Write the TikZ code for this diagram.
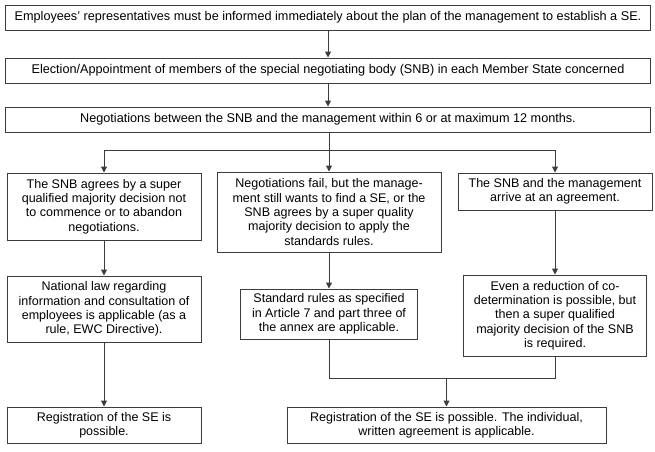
\documentclass[tikz,border=0pt]{standalone}
\usepackage{fontspec}
\setmainfont{Liberation Sans}
\usetikzlibrary{arrows.meta}
\definecolor{linegray}{RGB}{60,60,60}
\tikzset{
  box/.style={draw=linegray, line width=0.75pt, inner sep=1pt, align=center,
    font=\fontsize{9.4}{10.7}\selectfont},
  wide/.style={box, minimum width=483.75pt, minimum height=18.75pt,
    font=\fontsize{9.5}{11}\selectfont},
  conn/.style={draw=linegray, line width=0.75pt},
  arr/.style={conn, -{Triangle[length=4.5pt,width=4.5pt]}}
}
\begin{document}
\begin{tikzpicture}[x=0.75pt,y=-0.75pt]
    \useasboundingbox (0,0) rectangle (655,451);

    % top row
    \node[wide] (inform) at (328,17.5) {Employees' representatives must be informed immediately about the plan of the management to establish a SE.};
    \node[wide] (elect) at (328,70.5) {Election/Appointment of members of the special negotiating body (SNB) in each Member State concerned};
    \node[wide] (negot) at (328,119.5) {Negotiations between the SNB and the management within 6 or at maximum 12 months.};

    % three outcomes
    \node[box, minimum width=145.5pt, minimum height=50.25pt] (abandon) at (104,206.5) {The SNB agrees by a super\\qualified majority decision not\\to commence or to abandon\\negotiations.};
    \node[box, minimum width=168pt, minimum height=60pt] (fail) at (329,212) {Negotiations fail, but the manage-\\ment still wants to find a SE, or the\\SNB agrees by a super quality\\majority decision to apply the\\standards rules.};
    \node[box, minimum width=145.5pt, minimum height=27.75pt] (agree) at (555,191.5) {The SNB and the management\\arrive at an agreement.};

    % consequences
    \node[box, minimum width=145.5pt, minimum height=49.5pt] (natlaw) at (104,309) {National law regarding\\information and consultation of\\employees is applicable (as a\\rule, EWC Directive).};
    \node[box, minimum width=132.75pt, minimum height=37.5pt] (stdrules) at (329,314) {Standard rules as specified\\in Article 7 and part three of\\the annex are applicable.};
    \node[box, minimum width=137.25pt, minimum height=60.75pt] (reduce) at (555,315.5) {Even a reduction of co-\\determination is possible, but\\then a super qualified\\majority decision of the SNB\\is required.};

    % registration
    \node[box, minimum width=145.5pt, minimum height=27pt] (regA) at (104,425) {Registration of the SE is\\possible.};
    \node[box, minimum width=239.25pt, minimum height=27pt] (regB) at (446.5,425) {Registration of the SE is possible. The individual,\\written agreement is applicable.};

    % junctions
    \coordinate (split) at (329,150);
    \coordinate (splitL) at (104,150);
    \coordinate (splitR) at (555,150);
    \coordinate (mergeL) at (329,378);
    \coordinate (mergeR) at (555,378);
    \coordinate (merge) at (446.5,378);

    \path [arr] (inform) -- (elect);
    \path [arr] (elect) -- (negot);
    \path [conn] (negot.south -| split) -- (split);
    \path [conn] (splitL) -- (splitR);
    \path [arr] (splitL) -- (abandon);
    \path [arr] (split) -- (fail);
    \path [arr] (splitR) -- (agree);
    \path [arr] (abandon) -- (natlaw);
    \path [arr] (fail) -- (stdrules);
    \path [arr] (agree) -- (reduce);
    \path [arr] (natlaw) -- (regA);
    \path [conn] (stdrules.south -| mergeL) -- (mergeL) -- (mergeR) -- (reduce.south -| mergeR);
    \path [arr] (merge) -- (regB);
\end{tikzpicture}
\end{document}
